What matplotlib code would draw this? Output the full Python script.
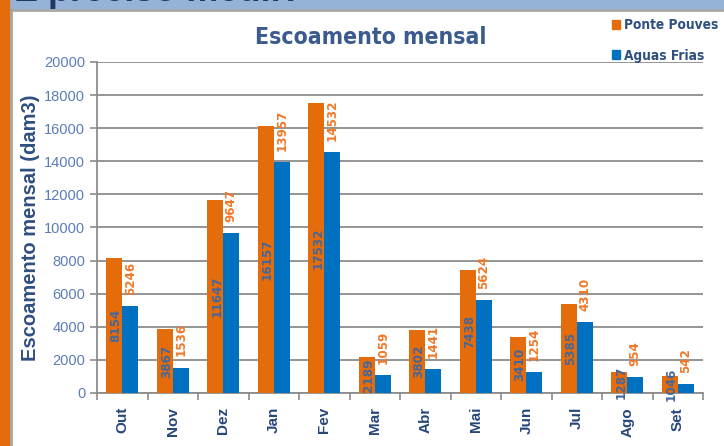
import numpy as np
import matplotlib.pyplot as plt
from matplotlib.patches import Rectangle, Patch

meses = ['Out', 'Nov', 'Dez', 'Jan', 'Fev', 'Mar', 'Abr', 'Mai', 'Jun', 'Jul', 'Ago', 'Set']
ponte_pouves = [8154, 3867, 11647, 16157, 17532, 2189, 3802, 7438, 3410, 5385, 1287, 1046]
aguas_frias = [5246, 1536, 9647, 13957, 14532, 1059, 1441, 5624, 1254, 4310, 954, 542]

plt.rcParams['font.family'] = ['Liberation Sans', 'DejaVu Sans']
narrow = ['DejaVu Sans']
laranja = '#E46C0A'
azul = '#0070C0'
cinza = '#8C8C8C'

W, H = 724, 446
fig = plt.figure(figsize=(W / 100, H / 100), dpi=100)

# moldura do slide
fig.patches.append(Rectangle((0, 0), 1, 1, transform=fig.transFigure, color='#95B3D7', zorder=-3))
fig.patches.append(Rectangle((0, 0), 9 / W, 1, transform=fig.transFigure, color=laranja, zorder=-2))
fig.patches.append(Rectangle((10.5 / W, -0.01), 1, (H - 9.5) / H + 0.01, transform=fig.transFigure,
                             facecolor='white', edgecolor='#A6A6A6', linewidth=2, zorder=-1))
fig.text(14 / W, 1 - 1 / H, 'É preciso medir!', fontsize=26, fontweight='bold', color='#1F3864',
         va='baseline', ha='left')

ax = fig.add_axes([97 / W, (H - 393) / H, (703 - 97) / W, (393 - 62) / H])
x = np.arange(len(meses))
larg = 0.315
ax.bar(x - larg / 2, ponte_pouves, larg, color=laranja, zorder=3)
ax.bar(x + larg / 2, aguas_frias, larg, color=azul, zorder=3)

# rotulos de dados
for i in range(len(meses)):
    ax.text(x[i] - larg / 2 + 0.03, ponte_pouves[i] / 2, str(ponte_pouves[i]), rotation=90,
            ha='center', va='center', color='#44679B', fontsize=9.5, fontweight='bold',
            family=narrow, fontstretch='condensed', zorder=4)
    ax.annotate(str(aguas_frias[i]), (x[i] + larg / 2, aguas_frias[i]), xytext=(0, 8),
                textcoords='offset points', rotation=90, ha='center', va='bottom',
                color='#F07828', fontsize=9.5, fontweight='bold', family=narrow,
                fontstretch='condensed', zorder=4)

ax.set_xlim(-0.5, len(meses) - 0.5)
ax.set_ylim(0, 20000)
ax.set_yticks(np.arange(0, 20001, 2000))
ax.yaxis.grid(True, color=cinza, linewidth=1.3, zorder=0)
ax.set_xticks(x)
ax.set_xticklabels(meses, rotation=90, fontweight='bold', color='#27477A', fontsize=11)
ax.set_xticks(np.arange(-0.5, len(meses)), minor=True)
ax.tick_params(axis='x', which='major', length=0, pad=10)
ax.tick_params(axis='x', which='minor', length=5, color=cinza, width=1.2)
ax.tick_params(axis='y', length=5, color=cinza, width=1.2, labelcolor='#5A7DB5', labelsize=10.5)
for s in ['top', 'right']:
    ax.spines[s].set_visible(False)
for s in ['left', 'bottom']:
    ax.spines[s].set_color(cinza)
    ax.spines[s].set_linewidth(1.3)

ax.set_ylabel('Escoamento mensal (dam3)', fontsize=14.5, fontweight='bold', color='#2F4F80', labelpad=3)
fig.text(371 / W, 1 - 38 / H, 'Escoamento mensal', fontsize=16.5, fontweight='bold', color='#3B5B8E',
         ha='center', va='center', family=narrow, fontstretch='condensed')

fig.legend(handles=[Patch(color=laranja, label='Ponte Pouves'), Patch(color=azul, label='Aguas Frias')],
           loc='upper left', bbox_to_anchor=(600 / W, 1 - 6 / H), frameon=False,
           handlelength=0.6, handleheight=0.6, handletextpad=0.3, labelspacing=1.2,
           prop={'family': narrow, 'weight': 'bold', 'size': 9.8, 'stretch': 'condensed'},
           labelcolor='#2F4F80')

fig.savefig('out.png', dpi=100)
